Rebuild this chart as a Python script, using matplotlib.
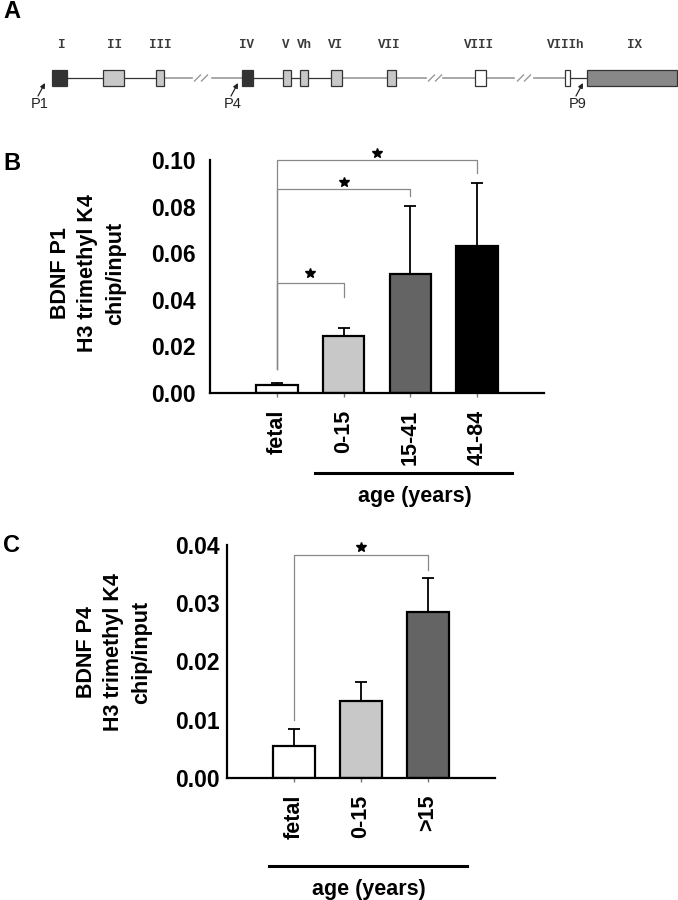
import numpy as np
import matplotlib
matplotlib.use("Agg")
import matplotlib.pyplot as plt

plt.rcParams['font.family'] = ['Liberation Sans', 'DejaVu Sans']

# ---- panel A: BDNF gene structure (positions along the gene, px units) ----
exon_names = ['I', 'II', 'III', 'IV', 'V', 'Vh', 'VI', 'VII', 'VIII', 'VIIIh', 'IX']
exon_start = [52, 103, 156, 242, 283, 300, 331, 387, 475, 565, 587]
exon_end = [67, 124, 164, 253, 291, 308, 342, 396, 486, 570, 677]
exon_fill = ['#333333', '#c8c8c8', '#c8c8c8', '#333333', '#c8c8c8', '#c8c8c8',
             '#c8c8c8', '#c8c8c8', '#ffffff', '#ffffff', '#888888']
exon_label_x = [62, 115, 160, 247, 286, 304, 335, 389, 479, 566, 634]
intron_start = [67, 124, 164, 212, 253, 291, 308, 342, 396, 443, 486, 534, 570]
intron_end = [103, 156, 192, 242, 283, 300, 331, 387, 426, 475, 514, 565, 587]
intron_dark = [True, True, False, False, True, True, True, False, False, False, False, False, True]
break_x = [201, 435, 524]
promoters = ['P1', 'P4', 'P9']
promoter_x = [45, 238, 583]

# ---- panel B: P1 ----
groups_b = ['fetal', '0-15', '15-41', '41-84']
vals_b = [0.0036, 0.0246, 0.051, 0.0629]
err_b = [0.0008, 0.0035, 0.0293, 0.0271]
colors_b = ['#ffffff', '#c8c8c8', '#646464', '#000000']

# ---- panel C: P4 ----
groups_c = ['fetal', '0-15', '>15']
vals_c = [0.0054, 0.0132, 0.0284]
err_c = [0.0029, 0.0032, 0.0059]
colors_c = ['#ffffff', '#c8c8c8', '#646464']

W, H = 678, 900
fig = plt.figure(figsize=(W / 100, H / 100), dpi=100)

# ================= A =================
ax_a = fig.add_axes([0, 1 - 130 / H, 1, 130 / H])
ax_a.set_xlim(0, W)
ax_a.set_ylim(130, 0)
ax_a.axis('off')
line_y = 78
for s, e, d in zip(intron_start, intron_end, intron_dark):
    ax_a.plot([s, e], [line_y, line_y], color='#333333' if d else '#999999',
              lw=0.9 if d else 1.2)
for bx in break_x:
    for off in (-3.5, 3.5):
        ax_a.plot([bx + off - 3, bx + off + 3], [line_y + 3, line_y - 3], color='#999999', lw=1.0)
for name, s, e, c, lx in zip(exon_names, exon_start, exon_end, exon_fill, exon_label_x):
    ax_a.add_patch(plt.Rectangle((s, 70), e - s, 16, facecolor=c, edgecolor='#333333', lw=0.9,
                                 zorder=3))
    ax_a.text(lx, 45, name, family='Liberation Mono', fontsize=9, fontweight='bold',
              color='#3a3a3a', ha='center', va='center')
for p, px in zip(promoters, promoter_x):
    ax_a.annotate('', xy=(px, 83), xytext=(px - 7, 96),
                  arrowprops=dict(arrowstyle='-|>', color='#222222', lw=0.9,
                                  mutation_scale=7, shrinkA=0, shrinkB=0))
    ax_a.text(px - 5.5, 104, p, fontsize=10.5, ha='center', va='center', color='#222222',
              family=['Liberation Sans Narrow', 'Liberation Sans'])
fig.text(3 / W, 1 - 11 / H, 'A', fontsize=17, fontweight='bold', va='center', ha='left')


def bar_panel(rect, groups, vals, errs, colors, ymax, yticks, xmax, ypad):
    ax = fig.add_axes(rect)
    x = np.arange(len(groups))
    ax.bar(x, vals, width=0.62, color=colors, edgecolor='black', linewidth=1.6, zorder=2)
    ax.errorbar(x, vals, yerr=[np.zeros(len(vals)), errs], fmt='none', ecolor='black',
                elinewidth=1.3, capsize=4.5, capthick=1.3, zorder=1)
    ax.set_xlim(-1, xmax)
    ax.set_ylim(0, ymax)
    ax.set_yticks(yticks)
    ax.set_yticklabels(['%.2f' % t for t in yticks], fontsize=16.5, fontweight='bold')
    ax.set_xticks(x)
    ax.set_xticklabels(groups, rotation=90, fontsize=15.5, fontweight='bold', va='top')
    ax.tick_params(axis='y', length=0, pad=ypad)
    ax.tick_params(axis='x', length=3, width=1, color='#777777', pad=9)
    for sp in ['top', 'right']:
        ax.spines[sp].set_visible(False)
    for sp in ['left', 'bottom']:
        ax.spines[sp].set_linewidth(1.6)
    return ax


def bracket(ax, x0, x1, y_left, y_top, y_right, y_star):
    ax.plot([x0, x0, x1, x1], [y_left, y_top, y_top, y_right], color='#888888', lw=0.9,
            clip_on=False, zorder=3)
    ax.plot([(x0 + x1) / 2], [y_star], marker='*', color='black', markersize=7,
            clip_on=False, linestyle='none')


# ================= B =================
ax_b = bar_panel([210 / W, 1 - 393 / H, 334 / W, 233 / H], groups_b, vals_b, err_b,
                 colors_b, 0.1, [0.0, 0.02, 0.04, 0.06, 0.08, 0.10], 4.0, 10)
bracket(ax_b, 0, 1, 0.0103, 0.0474, 0.0414, 0.0517)
bracket(ax_b, 0, 2, 0.0103, 0.0877, 0.0846, 0.0906)
bracket(ax_b, 0, 3, 0.0103, 0.1, 0.0946, 0.1031)
fig.text(88 / W, 1 - 273 / H, 'BDNF P1\nH3 trimethyl K4\nchip/input', rotation=90,
         fontsize=15.5, fontweight='bold', ha='center', va='center', multialignment='center',
         linespacing=1.4)
fig.add_artist(plt.Line2D([315 / W, 512 / W], [1 - 473 / H, 1 - 473 / H], color='black', lw=2.2))
fig.text(415 / W, 1 - 497 / H, 'age (years)', fontsize=15.5, fontweight='bold',
         ha='center', va='center')
fig.text(3 / W, 1 - 163 / H, 'B', fontsize=17, fontweight='bold', va='center', ha='left')

# ================= C =================
ax_c = bar_panel([227 / W, 1 - 777.7 / H, 268 / W, 232.7 / H], groups_c, vals_c, err_c,
                 colors_c, 0.04, [0.0, 0.01, 0.02, 0.03, 0.04], 3.0, 5)
bracket(ax_c, 0, 2, 0.0099, 0.0383, 0.0357, 0.0397)
fig.text(114 / W, 1 - 652 / H, 'BDNF P4\nH3 trimethyl K4\nchip/input', rotation=90,
         fontsize=15.5, fontweight='bold', ha='center', va='center', multialignment='center',
         linespacing=1.4)
fig.add_artist(plt.Line2D([269 / W, 467 / W], [1 - 866 / H, 1 - 866 / H], color='black', lw=2.2))
fig.text(369 / W, 1 - 889 / H, 'age (years)', fontsize=15.5, fontweight='bold',
         ha='center', va='center')
fig.text(3 / W, 1 - 546 / H, 'C', fontsize=17, fontweight='bold', va='center', ha='left')

fig.savefig('out.png', dpi=100)
